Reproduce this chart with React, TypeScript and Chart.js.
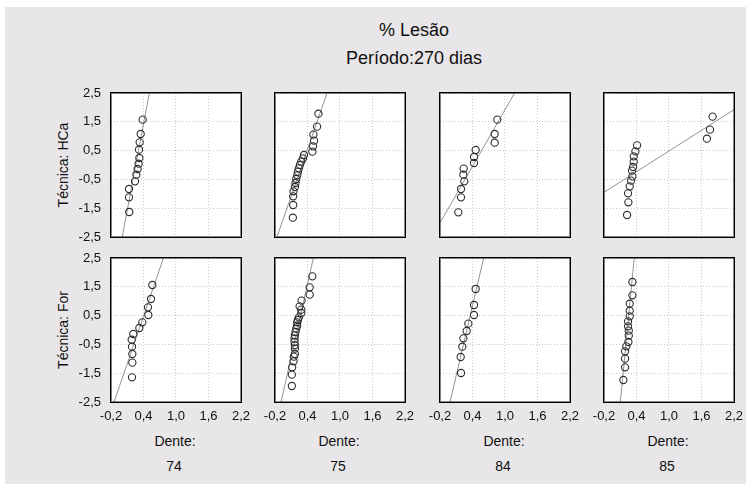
import React, { useEffect, useRef } from 'react';
import { Chart, registerables } from 'chart.js';

Chart.register(...registerables);

const FONT = '"Liberation Sans", Arial, Helvetica, sans-serif';

const titleText = '% Lesão';
const subtitleText = 'Período:270 dias';
const dentes = ['74', '75', '84', '85'];
const tecnicas = ['Técnica: HCa', 'Técnica: For'];

const xTickValues = [-0.2, 0.4, 1.0, 1.6, 2.2];
const xTickLabels = ['-0,2', '0,4', '1,0', '1,6', '2,2'];
const yTickValues = [-2.5, -1.5, -0.5, 0.5, 1.5, 2.5];
const yTickLabels = ['-2,5', '-1,5', '-0,5', '0,5', '1,5', '2,5'];

// Técnica HCa
const hca74X = [0.385, 0.348, 0.329, 0.317, 0.323, 0.31, 0.292, 0.268, 0.243, 0.132, 0.132, 0.138];
const hca74Y = [1.574, 1.076, 0.787, 0.532, 0.243, 0.046, -0.139, -0.336, -0.567, -0.833, -1.123, -1.632];
const hca74LineX = [0.006, 0.508];
const hca74LineY = [-2.5, 2.5];

const hca75X = [0.602, 0.577, 0.509, 0.521, 0.503, 0.49, 0.335, 0.316, 0.285, 0.26, 0.241, 0.223, 0.21, 0.192, 0.179, 0.167, 0.142, 0.136, 0.136, 0.13];
const hca75Y = [1.782, 1.331, 1.053, 0.845, 0.648, 0.463, 0.347, 0.231, 0.116, 0.0, -0.116, -0.231, -0.359, -0.486, -0.625, -0.764, -0.914, -1.088, -1.389, -1.829];
const hca75LineX = [-0.164, 0.761];
const hca75LineY = [-2.5, 2.5];

const hca84X = [0.858, 0.809, 0.809, 0.458, 0.428, 0.428, 0.237, 0.231, 0.249, 0.188, 0.188, 0.138];
const hca84Y = [1.574, 1.076, 0.775, 0.521, 0.278, 0.069, -0.127, -0.336, -0.567, -0.833, -1.123, -1.644];
const hca84LineX = [-0.2, 1.178];
const hca84LineY = [-2.01, 2.5];

const hca85X = [1.805, 1.756, 1.70, 0.411, 0.38, 0.349, 0.349, 0.337, 0.318, 0.324, 0.30, 0.275, 0.244, 0.25, 0.226];
const hca85Y = [1.678, 1.227, 0.914, 0.683, 0.475, 0.301, 0.116, -0.069, -0.197, -0.394, -0.544, -0.741, -0.984, -1.296, -1.736];
const hca85LineX = [-0.2, 2.2];
const hca85LineY = [-0.949, 1.921];

// Técnica For
const for74X = [0.563, 0.538, 0.483, 0.489, 0.378, 0.323, 0.212, 0.182, 0.188, 0.194, 0.194, 0.188];
const for74Y = [1.563, 1.076, 0.787, 0.521, 0.266, 0.069, -0.139, -0.336, -0.579, -0.833, -1.134, -1.644];
const for74LineX = [-0.143, 0.768];
const for74LineY = [-2.5, 2.5];

const for75X = [0.49, 0.44, 0.44, 0.291, 0.254, 0.285, 0.285, 0.241, 0.223, 0.21, 0.21, 0.192, 0.179, 0.167, 0.161, 0.161, 0.167, 0.167, 0.167, 0.148, 0.142, 0.117, 0.111, 0.111];
const for75Y = [1.863, 1.481, 1.227, 1.019, 0.822, 0.706, 0.59, 0.44, 0.347, 0.266, 0.15, 0.046, -0.069, -0.185, -0.301, -0.417, -0.532, -0.648, -0.833, -0.926, -1.088, -1.296, -1.551, -1.944];
const for75LineX = [-0.088, 0.508];
const for75LineY = [-2.5, 2.5];

const for84X = [0.458, 0.428, 0.428, 0.323, 0.292, 0.231, 0.212, 0.182, 0.188];
const for84Y = [1.424, 0.868, 0.521, 0.22, -0.035, -0.289, -0.579, -0.938, -1.493];
const for84LineX = [-0.015, 0.606];
const for84LineY = [-2.5, 2.5];

const for85X = [0.324, 0.324, 0.275, 0.275, 0.275, 0.244, 0.244, 0.257, 0.257, 0.25, 0.213, 0.189, 0.189, 0.189, 0.158];
const for85Y = [1.667, 1.204, 0.914, 0.671, 0.475, 0.301, 0.127, -0.023, -0.197, -0.417, -0.567, -0.741, -0.995, -1.296, -1.736];
const for85LineX = [0.102, 0.358];
const for85LineY = [-2.5, 2.5];

const panels = [
  { x: hca74X, y: hca74Y, lx: hca74LineX, ly: hca74LineY },
  { x: hca75X, y: hca75Y, lx: hca75LineX, ly: hca75LineY },
  { x: hca84X, y: hca84Y, lx: hca84LineX, ly: hca84LineY },
  { x: hca85X, y: hca85Y, lx: hca85LineX, ly: hca85LineY },
  { x: for74X, y: for74Y, lx: for74LineX, ly: for74LineY },
  { x: for75X, y: for75Y, lx: for75LineX, ly: for75LineY },
  { x: for84X, y: for84Y, lx: for84LineX, ly: for84LineY },
  { x: for85X, y: for85Y, lx: for85LineX, ly: for85LineY },
];

// layout (pixels)
const colLefts = [111, 275, 440, 604];
const rowTops = [93, 258];
const plotW = 130;
const plotH = 144;
const PAD_L = 4;
const Y_AXIS_W = 40;
const PAD_T = 10;
const PAD_R = 14;
const X_AXIS_H = 28;
const PAD_B = 4;
const canvasW = PAD_L + Y_AXIS_W + plotW + PAD_R;
const canvasH = PAD_T + plotH + X_AXIS_H + PAD_B;

const framePlugin = {
  id: 'frame',
  beforeDraw(chart: any) {
    const { ctx, chartArea } = chart;
    const { left, top, right, bottom } = chartArea;
    ctx.save();
    ctx.fillStyle = '#ffffff';
    ctx.fillRect(left, top, right - left, bottom - top);
    ctx.restore();
  },
  afterDraw(chart: any) {
    const { ctx, chartArea } = chart;
    const { left, top, right, bottom } = chartArea;
    ctx.save();
    ctx.strokeStyle = '#000000';
    ctx.lineWidth = 1;
    ctx.strokeRect(left - 0.5, top - 0.5, right - left + 1, bottom - top + 1);
    ctx.setLineDash([1, 1]);
    ctx.strokeStyle = '#111111';
    ctx.strokeRect(left + 0.5, top + 0.5, right - left - 1, bottom - top - 1);
    ctx.restore();
  },
};

function makeConfig(idx: number): any {
  const row = Math.floor(idx / 4);
  const col = idx % 4;
  const p = panels[idx];
  const showX = row === 1;
  const showY = col === 0;
  return {
    type: 'scatter',
    data: {
      datasets: [
        {
          data: p.lx.map((v, i) => ({ x: v, y: p.ly[i] })),
          showLine: true,
          borderColor: '#939393',
          borderWidth: 1,
          pointRadius: 0,
          order: 2,
        },
        {
          data: p.x.map((v, i) => ({ x: v, y: p.y[i] })),
          pointRadius: 3.6,
          pointBorderColor: '#2e2e2e',
          pointBackgroundColor: 'rgba(255,255,255,0)',
          pointBorderWidth: 1.1,
          order: 1,
        },
      ],
    },
    options: {
      responsive: false,
      animation: false,
      events: [],
      layout: { padding: { left: PAD_L, top: PAD_T, right: PAD_R, bottom: PAD_B } },
      plugins: {
        legend: { display: false },
        tooltip: { enabled: false },
      },
      scales: {
        x: {
          type: 'linear',
          min: -0.2,
          max: 2.2,
          afterBuildTicks: (s: any) => {
            s.ticks = xTickValues.map((v) => ({ value: v }));
          },
          afterFit: (s: any) => {
            s.height = X_AXIS_H;
            s.paddingLeft = 0;
            s.paddingRight = 0;
          },
          ticks: {
            autoSkip: false,
            maxRotation: 0,
            padding: 7,
            color: showX ? '#111111' : 'rgba(0,0,0,0)',
            font: { family: FONT, size: 13 },
            callback: (_v: any, i: number) => xTickLabels[i],
          },
          grid: { color: '#c8c8c8', lineWidth: 1, drawTicks: false },
          border: { display: false, dash: [1, 2] },
        },
        y: {
          type: 'linear',
          min: -2.5,
          max: 2.5,
          afterBuildTicks: (s: any) => {
            s.ticks = yTickValues.map((v) => ({ value: v }));
          },
          afterFit: (s: any) => {
            s.width = Y_AXIS_W;
            s.paddingTop = 0;
            s.paddingBottom = 0;
          },
          ticks: {
            autoSkip: false,
            padding: 10,
            color: showY ? '#111111' : 'rgba(0,0,0,0)',
            font: { family: FONT, size: 13 },
            callback: (_v: any, i: number) => yTickLabels[i],
          },
          grid: { color: '#c8c8c8', lineWidth: 1, drawTicks: false },
          border: { display: false, dash: [1, 2] },
        },
      },
    },
    plugins: [framePlugin],
  };
}

function Panel({ idx }: { idx: number }) {
  const ref = useRef<HTMLCanvasElement | null>(null);
  useEffect(() => {
    if (!ref.current) return;
    const chart = new Chart(ref.current, makeConfig(idx));
    return () => chart.destroy();
  }, [idx]);
  const row = Math.floor(idx / 4);
  const col = idx % 4;
  return (
    <canvas
      ref={ref}
      width={canvasW}
      height={canvasH}
      style={{
        position: 'absolute',
        left: colLefts[col] - PAD_L - Y_AXIS_W,
        top: rowTops[row] - PAD_T,
        width: canvasW,
        height: canvasH,
      }}
    />
  );
}

export default function App() {
  const textStyle: React.CSSProperties = {
    position: 'absolute',
    fontFamily: FONT,
    color: '#111111',
    whiteSpace: 'nowrap',
    transform: 'translate(-50%, -50%)',
    lineHeight: 1,
  };
  const titleX = 414;
  return (
    <div style={{ position: 'fixed', left: 0, top: 0, width: 751, height: 484, background: '#ffffff', overflow: 'hidden' }}>
      <div style={{ position: 'absolute', left: 5, top: 7, width: 741, height: 477, background: '#e8e6e8' }} />
      <div style={{ ...textStyle, left: titleX, top: 30, fontSize: 18 }}>{titleText}</div>
      <div style={{ ...textStyle, left: titleX, top: 58, fontSize: 18 }}>{subtitleText}</div>
      {tecnicas.map((t, r) => (
        <div
          key={t}
          style={{
            ...textStyle,
            left: 63,
            top: rowTops[r] + plotH / 2,
            fontSize: 14,
            transform: 'translate(-50%, -50%) rotate(-90deg)',
          }}
        >
          {t}
        </div>
      ))}
      {dentes.map((d, c) => (
        <React.Fragment key={d}>
          <div style={{ ...textStyle, left: colLefts[c] + plotW / 2 - 1, top: 441, fontSize: 14 }}>Dente:</div>
          <div style={{ ...textStyle, left: colLefts[c] + plotW / 2 - 2, top: 466, fontSize: 14 }}>{d}</div>
        </React.Fragment>
      ))}
      {panels.map((_p, i) => (
        <Panel key={i} idx={i} />
      ))}
    </div>
  );
}
